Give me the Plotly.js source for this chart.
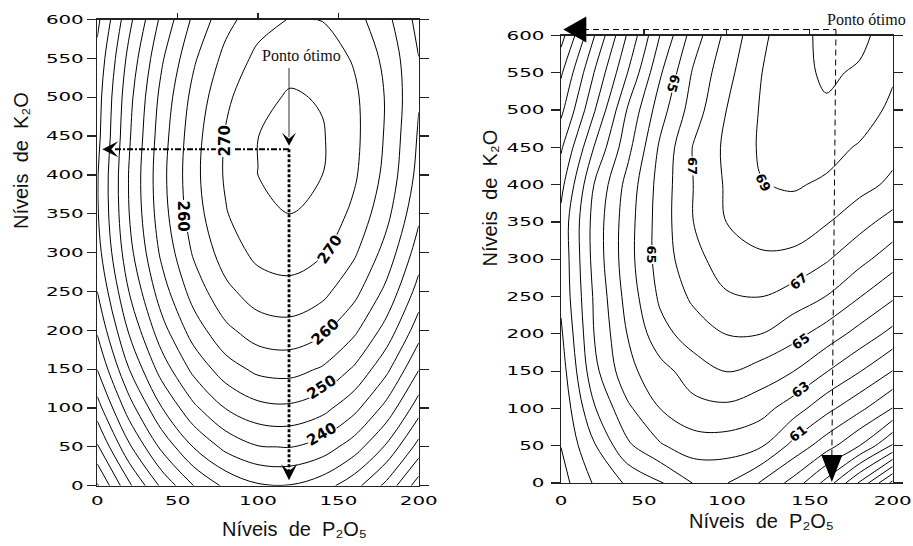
<!DOCTYPE html>
<html>
<head>
<meta charset="utf-8">
<script src="https://cdn.plot.ly/plotly-3.0.1.min.js"></script>
<style>
html,body{margin:0;padding:0;background:#fff}
#chart{width:913px;height:546px}
</style>
</head>
<body>
<div id="chart"></div>
<script>
// ---------- data ----------
const P2O5 = [0, 20, 40, 60, 80, 100, 120, 140, 160, 180, 200];
const K2O = [0, 50, 100, 150, 200, 250, 300, 350, 400, 450, 500, 550, 600];

// left panel response (rows = K2O levels, columns = P2O5 levels)
const Z_LEFT = [
  [184.39, 199.15, 211.03, 220.03, 226.15, 229.39, 229.75, 227.23, 221.83, 213.55, 202.39],
  [194.39, 209.22, 221.18, 230.25, 236.44, 239.75, 240.18, 237.74, 232.41, 224.20, 213.11],
  [202.87, 217.78, 229.80, 238.95, 245.21, 248.59, 249.10, 246.72, 241.47, 233.33, 222.31],
  [210.11, 225.09, 237.19, 246.40, 252.74, 256.19, 256.77, 254.47, 249.28, 241.22, 230.27],
  [215.69, 230.81, 243.05, 252.41, 258.89, 262.49, 263.21, 261.05, 256.01, 248.09, 237.29],
  [220.01, 235.27, 247.66, 257.16, 263.78, 267.53, 268.39, 266.38, 261.48, 253.70, 243.05],
  [223.08, 238.49, 251.02, 260.66, 267.43, 271.32, 272.33, 270.46, 265.70, 258.07, 247.56],
  [224.48, 240.10, 252.85, 262.71, 269.69, 273.80, 275.02, 273.37, 268.83, 261.41, 251.12],
  [224.61, 240.45, 253.41, 263.49, 270.69, 275.01, 276.45, 275.01, 270.69, 263.49, 253.41],
  [223.48, 239.53, 252.71, 263.00, 270.42, 274.96, 276.61, 275.39, 271.28, 264.30, 254.44],
  [222.93, 238.59, 251.50, 261.64, 269.02, 273.64, 275.51, 274.61, 270.95, 264.54, 255.36],
  [221.42, 236.67, 249.28, 259.24, 266.57, 271.25, 273.30, 272.71, 269.47, 263.60, 255.08],
  [218.79, 233.76, 246.18, 256.04, 263.33, 268.07, 270.24, 269.86, 266.92, 261.41, 253.35]
];

// right panel response
const Z_RIGHT = [
  [56.6, 58.1, 59.15, 59.9, 61.05, 61.03, 59.95, 58.65, 56.65, 53.85, 50.7],
  [57.02, 58.9, 60.8, 61.9, 62.5, 62.5, 62.15, 60.7, 59.45, 58.0, 55.9],
  [57.2, 59.9, 61.8, 63.02, 63.7, 63.8, 63.4, 62.5, 61.3, 60.25, 58.97],
  [57.5, 60.7, 62.7, 63.65, 64.5, 65.02, 64.6, 64.02, 63.05, 62.05, 60.98],
  [57.85, 61.02, 63.02, 64.65, 65.5, 66.03, 66.02, 65.35, 64.55, 63.65, 62.7],
  [58.2, 61.13, 63.37, 65.2, 66.2, 66.9, 67.01, 66.57, 65.98, 65.04, 64.15],
  [58.25, 61.34, 63.58, 65.47, 66.69, 67.5, 67.85, 67.73, 67.1, 66.3, 65.46],
  [58.3, 61.36, 63.55, 65.48, 67.01, 68.02, 68.41, 68.55, 68.08, 67.35, 66.62],
  [57.7, 61.03, 63.34, 65.43, 67.02, 68.14, 68.96, 69.1, 68.85, 68.35, 67.78],
  [56.85, 60.04, 62.66, 65.2, 67.08, 68.22, 69.1, 69.45, 69.35, 68.9, 68.34],
  [55.75, 58.9, 62.07, 64.59, 66.52, 68.02, 69.05, 69.6, 69.9, 69.55, 68.75],
  [54.86, 58.02, 60.98, 63.9, 66.15, 67.7, 68.95, 69.74, 70.12, 69.9, 69.15],
  [53.6, 56.95, 60.1, 63.06, 65.5, 67.3, 68.76, 69.64, 70.25, 70.2, 69.6]
];

const TICKS_X = [0, 50, 100, 150, 200];
const TICKS_Y = [0, 50, 100, 150, 200, 250, 300, 350, 400, 450, 500, 550, 600];
const TOP_TICKS = [50, 100, 150];

const LEVELS_LEFT = {start: 175, end: 280, size: 5};
const LEVELS_RIGHT = {start: 45, end: 71, size: 1};

// optimum points (P2O5, K2O)
const OPT_LEFT = {p: 119.3, k: 433};
const OPT_RIGHT = {p: 165.8, k: 608, pBottom: 163.3};

// texts
const TITLE_X = 'Níveis\u00a0\u00a0de\u00a0\u00a0P\u2082O\u2085';
const TITLE_Y = 'Níveis\u00a0\u00a0de\u00a0\u00a0K\u2082O';
const NOTE = 'Ponto ótimo';
const LABEL_TEXT_LEFT = ['270', '260', '270', '260', '250', '240'];
const LABEL_TEXT_RIGHT = ['65', '67', '65', '69', '67', '65', '63', '61'];

// ---------- placement / style ----------
const LABEL_POS_LEFT = [[79.7, 443.6, -90], [53.1, 347, 90], [144.8, 304.6, -55], [141.7, 197.2, -42], [139.8, 127, -33], [139.8, 66.5, -30]];
const LABEL_POS_RIGHT = [[67.7, 535.6, 105], [79.2, 424.6, 90], [54.5, 305.8, 90], [121.8, 402.9, 65], [143.3, 270, -40], [144.5, 189.5, -35], [144.5, 124.7, -38], [142.9, 66.6, -38]];

const W = 913, H = 546;
const XDOM1 = [97.3 / W, 418.7 / W], YDOM1 = [1 - 485.7 / H, 1 - 19.5 / H];
const XDOM2 = [561 / W, 892.7 / W], YDOM2 = [1 - 483 / H, 1 - 35.5 / H];
// pixel position of a value on an axis with given domain (used for decorations only)
const pxX = (dom, v) => (dom[0] + v / 200 * (dom[1] - dom[0])) * W;
const pxY = (dom, v) => (1 - dom[0] - v / 600 * (dom[1] - dom[0])) * H;

const TICKFONT = {family: 'DejaVu Sans', size: 12, color: '#000'};
const LINE_COL = '#222';

function contourTrace(z, lv, xa, ya) {
  return {
    type: 'contour', x: P2O5, y: K2O, z: z, xaxis: xa, yaxis: ya,
    contours: {coloring: 'none', start: lv.start, end: lv.end, size: lv.size, showlabels: false},
    line: {color: '#000', width: 1, smoothing: 1},
    showscale: false, hoverinfo: 'skip'
  };
}

const traces = [
  contourTrace(Z_LEFT, LEVELS_LEFT, 'x', 'y'),
  contourTrace(Z_RIGHT, LEVELS_RIGHT, 'x2', 'y2'),
  {type: 'scatter', x: [], y: [], xaxis: 'x3', yaxis: 'y', hoverinfo: 'skip', showlegend: false},
  {type: 'scatter', x: [], y: [], xaxis: 'x4', yaxis: 'y2', hoverinfo: 'skip', showlegend: false}
];

function xAxis(dom, anchor, lab) {
  return {domain: dom, anchor: anchor, range: [0, 200], tickvals: TICKS_X, ticks: 'outside', ticklen: lab,
    tickcolor: 'rgba(0,0,0,0)', showline: true, mirror: true, linecolor: LINE_COL, linewidth: 1.2,
    showgrid: false, zeroline: false, tickfont: TICKFONT, fixedrange: true};
}
function yAxis(dom, anchor, standoff) {
  return {domain: dom, anchor: anchor, range: [0, 600], tickvals: TICKS_Y, ticks: 'outside', ticklen: 9,
    tickcolor: LINE_COL, tickwidth: 1.2, mirror: 'allticks', showline: true, linecolor: LINE_COL, linewidth: 1.2,
    showgrid: false, zeroline: false, tickfont: TICKFONT, ticklabelstandoff: standoff, fixedrange: true};
}
function topAxis(over, anchor) {
  return {overlaying: over, anchor: anchor, side: 'top', range: [0, 200], tickvals: TOP_TICKS, ticks: 'outside',
    ticklen: 6, tickcolor: LINE_COL, tickwidth: 1.2, showticklabels: false, showline: false, showgrid: false,
    zeroline: false, fixedrange: true};
}

const titleFont = {family: 'Liberation Sans, DejaVu Sans, sans-serif', size: 20, color: '#111'};
const serifFont = {family: 'Liberation Serif, Times New Roman, serif', size: 16, color: '#111'};
const labelFont = {family: 'DejaVu Sans', size: 13, color: '#000', weight: 'bold'};

const annotations = [];
// axis titles
annotations.push({xref: 'paper', yref: 'paper', x: 21 / W, y: 1 - 161 / H, text: TITLE_Y, textangle: -90, showarrow: false, font: titleFont, xanchor: 'center', yanchor: 'middle'});
annotations.push({xref: 'paper', yref: 'paper', x: 489 / W, y: 1 - 198.5 / H, text: TITLE_Y, textangle: -90, showarrow: false, font: titleFont, xanchor: 'center', yanchor: 'middle'});
annotations.push({xref: 'paper', yref: 'paper', x: 294 / W, y: 1 - 529 / H, text: TITLE_X, showarrow: false, font: titleFont, xanchor: 'center', yanchor: 'middle'});
annotations.push({xref: 'paper', yref: 'paper', x: 761.5 / W, y: 1 - 521 / H, text: TITLE_X, showarrow: false, font: titleFont, xanchor: 'center', yanchor: 'middle'});
// Ponto ótimo texts
annotations.push({xref: 'paper', yref: 'paper', x: 301.3 / W, y: 1 - 56 / H, text: NOTE, showarrow: false, font: serifFont, xanchor: 'center', yanchor: 'middle'});
annotations.push({xref: 'paper', yref: 'paper', x: 866.7 / W, y: 1 - 20 / H, text: NOTE, showarrow: false, font: serifFont, xanchor: 'center', yanchor: 'middle'});
// contour labels
LABEL_TEXT_LEFT.forEach((t, i) => {
  const p = LABEL_POS_LEFT[i];
  annotations.push({xref: 'x', yref: 'y', x: p[0], y: p[1], text: t, textangle: p[2], showarrow: false,
    font: Object.assign({}, labelFont, {size: 15}), bgcolor: '#fff', borderpad: 0, xanchor: 'center', yanchor: 'middle'});
});
LABEL_TEXT_RIGHT.forEach((t, i) => {
  const p = LABEL_POS_RIGHT[i];
  annotations.push({xref: 'x2', yref: 'y2', x: p[0], y: p[1], text: t, textangle: p[2], showarrow: false,
    font: labelFont, bgcolor: '#fff', borderpad: 0, xanchor: 'center', yanchor: 'middle'});
});

// arrow heads as filled paths (pixel geometry converted to paper coordinates)
function head(tx, ty, ux, uy, len, wid, notch) {
  const nx = -uy, ny = ux;
  const bx = tx - ux * len, by = ty - uy * len;
  const pts = [[tx, ty], [bx + nx * wid / 2, by + ny * wid / 2], [tx - ux * notch, ty - uy * notch], [bx - nx * wid / 2, by - ny * wid / 2]];
  const d = pts.map((p, i) => (i ? 'L' : 'M') + (p[0] / W).toFixed(5) + ',' + (1 - p[1] / H).toFixed(5)).join(' ') + ' Z';
  return {type: 'path', xref: 'paper', yref: 'paper', path: d, fillcolor: '#000', line: {width: 0}};
}

const oLx = pxX(XDOM1, OPT_LEFT.p), oLy = pxY(YDOM1, OPT_LEFT.k);
const oRx = pxX(XDOM2, OPT_RIGHT.p), oRy = pxY(YDOM2, OPT_RIGHT.k);
const bRx = pxX(XDOM2, OPT_RIGHT.pBottom);

const shapes = [
  // left: dotted guides from the optimum to the axes
  {type: 'line', xref: 'x', yref: 'y', x0: OPT_LEFT.p, y0: OPT_LEFT.k, x1: 10, y1: OPT_LEFT.k,
    line: {color: '#000', width: 2.2, dash: '6px,2px,2px,2px'}},
  {type: 'line', xref: 'x', yref: 'y', x0: OPT_LEFT.p, y0: OPT_LEFT.k, x1: OPT_LEFT.p, y1: 15,
    line: {color: '#000', width: 2.8, dash: '3px,2px'}},
  // left: "Ponto ótimo" pointer shaft
  {type: 'line', xref: 'paper', yref: 'paper', x0: oLx / W, y0: 1 - 68 / H, x1: oLx / W, y1: 1 - (oLy - 12) / H,
    line: {color: '#333', width: 1}},
  head(oLx, oLy - 3.5, 0, 1, 13, 14, 7),
  head(pxX(XDOM1, 0) + 5, oLy, -1, 0, 16, 16, 9),
  head(oLx, pxY(YDOM1, 0) - 5.5, 0, 1, 16, 16, 9),
  // right: dashed guides
  {type: 'line', xref: 'paper', yref: 'paper', x0: (pxX(XDOM2, 0) + 22) / W, y0: 1 - oRy / H, x1: oRx / W, y1: 1 - oRy / H,
    line: {color: '#000', width: 1, dash: '6px,4px'}},
  {type: 'line', xref: 'paper', yref: 'paper', x0: oRx / W, y0: 1 - oRy / H, x1: bRx / W, y1: 1 - (pxY(YDOM2, 0) - 24) / H,
    line: {color: '#000', width: 1, dash: '6px,4px'}},
  head(pxX(XDOM2, 0) + 2.3, oRy, -1, 0, 23, 26, 23),
  head(bRx, pxY(YDOM2, 0) - 1, 0, 1, 27, 21, 27)
];

const layout = {
  width: W, height: H, margin: {l: 0, r: 0, t: 0, b: 0},
  paper_bgcolor: '#fff', plot_bgcolor: '#fff', showlegend: false,
  font: {family: 'Liberation Sans, Arial, sans-serif', color: '#000'},
  xaxis: xAxis(XDOM1, 'y', 4), yaxis: yAxis(YDOM1, 'x', 1),
  xaxis2: xAxis(XDOM2, 'y2', 6), yaxis2: yAxis(YDOM2, 'x2', 4),
  xaxis3: topAxis('x', 'y'), xaxis4: topAxis('x2', 'y2'),
  annotations: annotations, shapes: shapes
};

function stretchTicks(gd) {
  gd.querySelectorAll('g.xtick text, g.ytick text, g.x2tick text, g.y2tick text').forEach(t => {
    const n = (t.textContent || '').length;
    if (!n) return;
    t.setAttribute('textLength', (n * 12.6).toFixed(1));
    t.setAttribute('lengthAdjust', 'spacingAndGlyphs');
  });
}

Plotly.newPlot('chart', traces, layout, {staticPlot: true, displayModeBar: false}).then(gd => stretchTicks(gd));
</script>
</body>
</html>
